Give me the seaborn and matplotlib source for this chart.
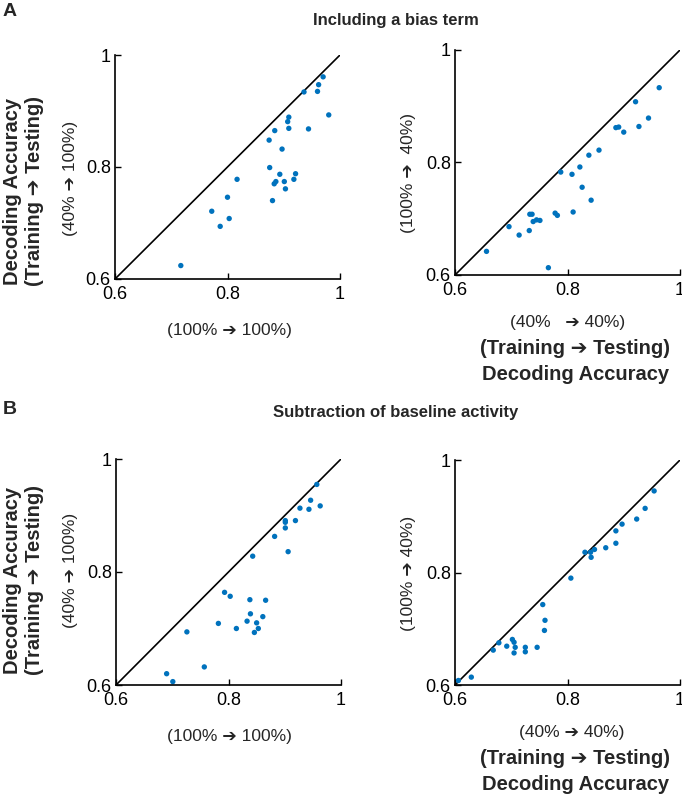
import numpy as np
import pandas as pd
import matplotlib
matplotlib.use("Agg")
import matplotlib.pyplot as plt
import seaborn as sns

sns.set_style("ticks")
plt.rcParams['font.family'] = ['Liberation Sans', 'DejaVu Sans']

# A left: bias term, x = 100%->100%, y = 40%->100%
a_left_x = [0.970, 0.962, 0.960, 0.936, 0.980, 0.909, 0.907, 0.909, 0.944, 0.884,
            0.874, 0.897, 0.875, 0.893, 0.921, 0.886, 0.883, 0.901, 0.918, 0.903,
            0.817, 0.800, 0.880, 0.772, 0.803, 0.787, 0.717]
a_left_y = [0.961, 0.947, 0.935, 0.934, 0.893, 0.889, 0.881, 0.869, 0.868, 0.865,
            0.848, 0.832, 0.799, 0.787, 0.788, 0.774, 0.770, 0.774, 0.778, 0.761,
            0.778, 0.746, 0.740, 0.721, 0.708, 0.694, 0.624]

# A right: bias term, x = 40%->40%, y = 100%->40%
a_right_x = [0.963, 0.921, 0.944, 0.927, 0.886, 0.891, 0.900, 0.856, 0.838, 0.822,
             0.788, 0.808, 0.826, 0.842, 0.810, 0.778, 0.782, 0.733, 0.737, 0.739,
             0.745, 0.751, 0.696, 0.714, 0.732, 0.656, 0.766]
a_right_y = [0.933, 0.908, 0.879, 0.864, 0.862, 0.863, 0.854, 0.822, 0.813, 0.792,
             0.783, 0.779, 0.756, 0.733, 0.712, 0.710, 0.706, 0.708, 0.708, 0.695,
             0.698, 0.697, 0.686, 0.671, 0.679, 0.642, 0.613]

# B left: baseline subtraction, x = 100%->100%, y = 40%->100%
b_left_x = [0.957, 0.946, 0.963, 0.943, 0.927, 0.919, 0.901, 0.901, 0.901, 0.882,
            0.906, 0.843, 0.793, 0.803, 0.838, 0.866, 0.839, 0.861, 0.833, 0.850,
            0.782, 0.814, 0.853, 0.846, 0.726, 0.757, 0.690, 0.701]
b_left_y = [0.955, 0.927, 0.917, 0.911, 0.913, 0.891, 0.891, 0.888, 0.878, 0.863,
            0.836, 0.828, 0.764, 0.757, 0.751, 0.750, 0.726, 0.721, 0.713, 0.710,
            0.709, 0.700, 0.700, 0.693, 0.694, 0.632, 0.620, 0.606]

# B right: baseline subtraction, x = 40%->40%, y = 100%->40%
b_right_x = [0.954, 0.938, 0.923, 0.897, 0.886, 0.886, 0.868, 0.848, 0.841, 0.831,
             0.842, 0.806, 0.756, 0.760, 0.759, 0.678, 0.668, 0.692, 0.702, 0.705,
             0.707, 0.705, 0.725, 0.725, 0.746, 0.629, 0.606]
b_right_y = [0.945, 0.914, 0.895, 0.886, 0.874, 0.852, 0.844, 0.841, 0.836, 0.836,
             0.827, 0.790, 0.743, 0.715, 0.697, 0.675, 0.662, 0.669, 0.681, 0.676,
             0.667, 0.657, 0.667, 0.659, 0.667, 0.614, 0.608]

lims = [0.6, 1.0]
ticks = [0.6, 0.8, 1.0]
tick_labels = ['0.6', '0.8', '1']
dot_color = '#0072BD'
ARR = '\u2794'

W, H = 682, 795
fig = plt.figure(figsize=(W / 100, H / 100), dpi=100)


def make_ax(left, top, right, bottom):
    return fig.add_axes([left / W, 1 - bottom / H, (right - left) / W, (bottom - top) / H])


def draw_panel(ax, xs, ys):
    df = pd.DataFrame({'x': xs, 'y': ys})
    ax.plot(lims, lims, color='black', lw=1.2, zorder=1)
    sns.scatterplot(data=df, x='x', y='y', ax=ax, color=dot_color, s=15,
                    edgecolor='none', zorder=2, clip_on=False)
    ax.set_xlim(lims)
    ax.set_ylim(lims)
    ax.set_xticks(ticks)
    ax.set_yticks(ticks)
    ax.set_xticklabels(tick_labels)
    ax.set_yticklabels(tick_labels)
    ax.set_xlabel('')
    ax.set_ylabel('')
    ax.tick_params(direction='in', length=4, width=1, labelsize=13, colors='black')
    ax.tick_params(axis='x', pad=5)
    ax.tick_params(axis='y', pad=3)
    sns.despine(ax=ax)
    for sp in ['left', 'bottom']:
        ax.spines[sp].set_linewidth(1.2)
        ax.spines[sp].set_color('black')


ax1 = make_ax(115, 55, 340, 279)
ax2 = make_ax(455, 50, 680, 275)
ax3 = make_ax(116, 459, 341, 685)
ax4 = make_ax(455, 460, 680, 685)

draw_panel(ax1, a_left_x, a_left_y)
draw_panel(ax2, a_right_x, a_right_y)
draw_panel(ax3, b_left_x, b_left_y)
draw_panel(ax4, b_right_x, b_right_y)


def ftext(x, y, s, **kw):
    fig.text(x / W, 1 - y / H, s, ha='center', va='center', **kw)


# panel letters and titles
ftext(10, 11, 'A', fontsize=14, fontweight='bold')
ftext(10, 410, 'B', fontsize=14, fontweight='bold')
ftext(396, 20, 'Including a bias term', fontsize=12, fontweight='bold')
ftext(396, 413, 'Subtraction of baseline activity', fontsize=12, fontweight='bold')

# left-column y labels
for yc_big, yc_small in [(191, 178), (580, 570)]:
    ftext(13, yc_big, 'Decoding Accuracy', fontsize=14.5, fontweight='bold', rotation=90)
    ftext(35, yc_big, f'(Training {ARR} Testing)', fontsize=14.5, fontweight='bold', rotation=90)
    ftext(71, yc_small, f'(40% {ARR} 100%)', fontsize=12.5, rotation=90)

# left-column x labels
ftext(229, 330, f'(100% {ARR} 100%)', fontsize=12.5)
ftext(229, 737, f'(100% {ARR} 100%)', fontsize=12.5)

# right-column y labels
ftext(408, 173, f'(100% {ARR}  40%)', fontsize=12.5, rotation=90)
ftext(408, 573, f'(100% {ARR} 40%)', fontsize=12.5, rotation=90)

# right-column x labels
ftext(568, 322, f'(40%   {ARR} 40%)', fontsize=12.5)
ftext(575, 349, f'(Training {ARR} Testing)', fontsize=14.5, fontweight='bold')
ftext(576, 375, 'Decoding Accuracy', fontsize=14.5, fontweight='bold')
ftext(572, 732, f'(40% {ARR} 40%)', fontsize=12.5)
ftext(575, 759, f'(Training {ARR} Testing)', fontsize=14.5, fontweight='bold')
ftext(576, 785, 'Decoding Accuracy', fontsize=14.5, fontweight='bold')

fig.savefig('out.png', dpi=100)
